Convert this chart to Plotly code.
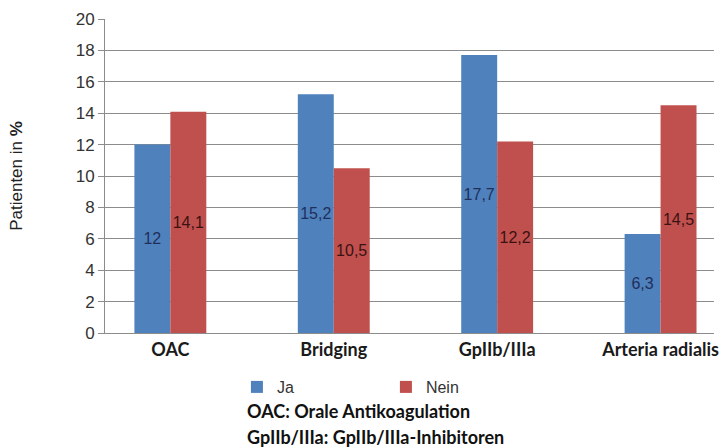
import plotly.graph_objects as go

categories = ["OAC", "Bridging", "GpIIb/IIIa", "Arteria radialis"]
ja_values = [12, 15.2, 17.7, 6.3]
nein_values = [14.1, 10.5, 12.2, 14.5]
y_ticks = [0, 2, 4, 6, 8, 10, 12, 14, 16, 18, 20]

W, H = 719, 448
ML, MR, MT, MB = 105, 0, 19, 115
PH = H - MT - MB


def de(v):
    return f"{v:g}".replace(".", ",")


def py(px):
    # pixel row -> paper y coordinate
    return (H - MB - px) / PH


fig = go.Figure()
fig.add_trace(go.Bar(
    name="Ja", x=categories, y=ja_values,
    marker=dict(color="#4F81BD", line=dict(width=0)),
    text=[de(v) for v in ja_values], textposition="inside",
    insidetextanchor="middle", textangle=0, constraintext="none",
    textfont=dict(family="Liberation Sans", size=16, color="#1F2F5C"),
))
fig.add_trace(go.Bar(
    name="Nein", x=categories, y=nein_values,
    marker=dict(color="#C0504D", line=dict(width=0)),
    text=[de(v) for v in nein_values], textposition="inside",
    insidetextanchor="middle", textangle=0, constraintext="none",
    textfont=dict(family="Liberation Sans", size=16, color="#3A1212"),
))

fig.update_layout(
    width=W, height=H,
    margin=dict(l=ML, r=MR, t=MT, b=MB),
    paper_bgcolor="white", plot_bgcolor="white",
    barmode="group", bargap=0.56, bargroupgap=0,
    uniformtext=dict(mode=False),
    showlegend=True,
    legend=dict(
        orientation="h", x=(238 - ML) / (W - ML - MR), y=py(387),
        xanchor="left", yanchor="middle",
        entrywidth=104, entrywidthmode="pixels", itemwidth=30,
        font=dict(family="Liberation Sans", size=16, color="#333333"),
        bgcolor="rgba(0,0,0,0)", tracegroupgap=0,
    ),
    font=dict(family="Liberation Sans", color="#333333"),
)

fig.update_xaxes(
    range=[-0.40, 3.327],
    showgrid=False, showline=True, linecolor="#8C8C8C", linewidth=1,
    ticks="", tickfont=dict(family="Lato", size=18, color="#1A1A1A", weight="bold"),
    ticklabelstandoff=0,
)
fig.update_yaxes(
    range=[0, 20], tickvals=y_ticks,
    showgrid=True, gridcolor="#8C8C8C", gridwidth=1,
    showline=True, linecolor="#8C8C8C", linewidth=1,
    ticks="outside", ticklen=6, tickcolor="#8C8C8C",
    tickfont=dict(family="Liberation Sans", size=17, color="#333333"),
    zeroline=False,
    title=dict(text="Patienten in <b>%</b>",
               font=dict(family="Liberation Sans", size=17, color="#222222"),
               standoff=48),
)

foot = dict(family="Lato", size=18, color="#111111", weight="bold")
fig.add_annotation(text="OAC: Orale Antikoagulation", xref="paper", yref="paper",
                   x=(246 - ML) / (W - ML - MR), y=py(411),
                   xanchor="left", yanchor="middle", showarrow=False, font=foot)
fig.add_annotation(text="GpIIb/IIIa: GpIIb/IIIa-Inhibitoren", xref="paper", yref="paper",
                   x=(246 - ML) / (W - ML - MR), y=py(437),
                   xanchor="left", yanchor="middle", showarrow=False, font=foot)

fig.write_html("out.html")
